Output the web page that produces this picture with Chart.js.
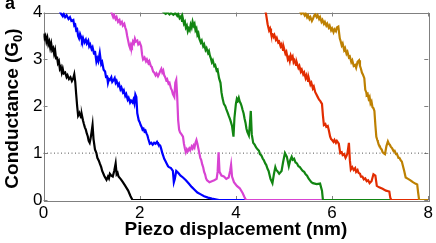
<!DOCTYPE html>
<html>
<head>
<meta charset="utf-8">
<script src="https://cdn.jsdelivr.net/npm/chart.js@4.4.1/dist/chart.umd.min.js"></script>
<style>
  html, body { margin: 0; padding: 0; background: #fff; }
  #wrap { width: 436px; height: 243px; }
</style>
</head>
<body>
<div id="wrap"><canvas id="traceChart" width="436" height="243"></canvas></div>
<script>
// conductance traces, [piezo displacement (nm), conductance (G0)]
const blackTrace = [[0,3.55],[0.02,3.45],[0.04,3.5],[0.06,3.38],[0.08,3.46],[0.1,3.32],[0.12,3.38],[0.14,3.25],[0.16,3.34],[0.18,3.2],[0.2,3.24],[0.22,3.12],[0.24,3.2],[0.26,3.02],[0.28,3.06],[0.3,2.92],[0.32,2.96],[0.34,2.8],[0.36,2.84],[0.38,2.72],[0.4,2.8],[0.42,2.7],[0.45,2.72],[0.48,2.62],[0.5,2.66],[0.53,2.58],[0.56,2.62],[0.59,2.54],[0.62,2.6],[0.64,2.68],[0.66,2.52],[0.68,2.25],[0.7,2.0],[0.72,1.8],[0.75,1.86],[0.78,1.76],[0.8,1.8],[0.82,1.7],[0.84,1.62],[0.86,1.55],[0.88,1.5],[0.9,1.42],[0.92,1.36],[0.94,1.26],[0.96,1.22],[0.98,1.32],[1.0,1.45],[1.02,1.6],[1.04,1.3],[1.07,1.08],[1.1,1.0],[1.12,0.9],[1.15,0.84],[1.17,0.78],[1.2,0.7],[1.22,0.62],[1.25,0.55],[1.27,0.5],[1.31,0.43],[1.34,0.5],[1.36,0.46],[1.38,0.56],[1.41,0.52],[1.44,0.5],[1.47,0.62],[1.5,0.78],[1.52,0.55],[1.54,0.58],[1.56,0.5],[1.61,0.44],[1.65,0.38],[1.7,0.3],[1.76,0.2],[1.81,0.08],[1.85,0],[8,0]];
const blueTrace = [[0.3,4.1],[0.36,3.98],[0.4,3.92],[0.42,3.97],[0.45,3.9],[0.48,3.94],[0.52,3.86],[0.55,3.9],[0.58,3.82],[0.62,3.84],[0.64,3.72],[0.66,3.74],[0.68,3.62],[0.7,3.64],[0.72,3.5],[0.74,3.45],[0.76,3.54],[0.78,3.48],[0.8,3.4],[0.82,3.46],[0.85,3.36],[0.88,3.42],[0.9,3.34],[0.93,3.4],[0.95,3.28],[0.97,3.32],[1.0,3.22],[1.02,3.26],[1.05,3.12],[1.07,3.18],[1.1,2.95],[1.12,3.02],[1.14,2.96],[1.17,3.14],[1.2,2.9],[1.22,2.94],[1.25,2.78],[1.28,2.74],[1.3,2.62],[1.32,2.66],[1.34,2.5],[1.36,2.58],[1.38,2.56],[1.41,2.62],[1.43,2.52],[1.46,2.56],[1.48,2.6],[1.5,2.5],[1.52,2.54],[1.55,2.44],[1.57,2.48],[1.6,2.36],[1.62,2.4],[1.65,2.3],[1.67,2.34],[1.7,2.22],[1.72,2.26],[1.75,2.14],[1.77,2.18],[1.8,2.08],[1.82,2.12],[1.85,2.08],[1.87,2.14],[1.89,2.06],[1.91,2.25],[1.93,2.2],[1.95,1.85],[1.98,1.7],[2.0,1.66],[2.02,1.6],[2.04,1.56],[2.06,1.5],[2.08,1.52],[2.1,1.46],[2.12,1.48],[2.14,1.42],[2.16,1.38],[2.18,1.3],[2.21,1.2],[2.24,1.22],[2.27,1.18],[2.3,1.22],[2.33,1.2],[2.36,1.24],[2.38,1.2],[2.41,1.18],[2.43,1.15],[2.45,1.08],[2.47,1.0],[2.49,0.94],[2.51,0.88],[2.54,0.82],[2.56,0.78],[2.59,0.72],[2.61,0.7],[2.65,0.68],[2.69,0.62],[2.71,0.38],[2.73,0.45],[2.76,0.62],[2.8,0.58],[2.85,0.52],[2.9,0.48],[2.96,0.42],[3.02,0.35],[3.08,0.28],[3.14,0.22],[3.2,0.16],[3.27,0.12],[3.34,0.08],[3.42,0.05],[3.5,0.03],[3.6,0.01],[3.65,0],[8,0]];
const pinkTrace = [[1.38,4.1],[1.42,3.98],[1.45,3.9],[1.47,3.94],[1.5,3.86],[1.52,3.9],[1.55,3.8],[1.58,3.84],[1.6,3.76],[1.63,3.8],[1.65,3.72],[1.68,3.76],[1.7,3.68],[1.72,3.62],[1.74,3.5],[1.76,3.4],[1.78,3.3],[1.8,3.24],[1.82,3.32],[1.84,3.28],[1.86,3.38],[1.88,3.34],[1.9,3.44],[1.92,3.38],[1.95,3.4],[1.97,3.32],[2.0,3.36],[2.03,3.28],[2.05,3.1],[2.07,3.0],[2.1,3.04],[2.13,2.96],[2.15,3.0],[2.18,2.92],[2.2,2.96],[2.23,2.86],[2.25,2.84],[2.28,2.74],[2.3,2.72],[2.33,2.66],[2.35,2.7],[2.38,2.64],[2.4,2.68],[2.43,2.76],[2.45,2.8],[2.47,2.72],[2.49,2.76],[2.51,2.66],[2.53,2.62],[2.55,2.56],[2.57,2.58],[2.6,2.48],[2.62,2.5],[2.65,2.38],[2.67,2.34],[2.69,2.26],[2.72,2.2],[2.74,2.5],[2.76,2.56],[2.78,2.2],[2.8,1.7],[2.82,1.5],[2.84,1.44],[2.87,1.4],[2.9,1.35],[2.92,1.2],[2.94,1.1],[2.96,1.02],[2.98,1.08],[3.0,1.04],[3.03,1.1],[3.05,1.06],[3.08,1.14],[3.1,1.1],[3.12,1.16],[3.14,1.12],[3.16,1.22],[3.18,1.28],[3.2,1.2],[3.22,1.1],[3.24,1.0],[3.26,0.9],[3.28,0.85],[3.3,0.76],[3.32,0.7],[3.34,0.6],[3.36,0.55],[3.38,0.46],[3.4,0.42],[3.45,0.38],[3.5,0.4],[3.55,0.42],[3.6,0.45],[3.62,0.6],[3.64,1.02],[3.66,0.6],[3.7,0.52],[3.75,0.5],[3.8,0.45],[3.85,0.48],[3.88,0.62],[3.9,0.75],[3.92,0.5],[3.96,0.38],[4.02,0.3],[4.08,0.25],[4.14,0.15],[4.18,0.06],[4.21,0],[8,0]];
const greenTrace = [[2.45,4.05],[2.5,4.0],[2.54,3.97],[2.58,4.0],[2.62,3.96],[2.65,3.99],[2.7,3.95],[2.74,3.99],[2.78,3.93],[2.8,3.97],[2.83,3.88],[2.86,3.92],[2.88,3.82],[2.9,3.86],[2.92,3.76],[2.94,3.8],[2.96,3.68],[2.98,3.72],[3.0,3.6],[3.02,3.66],[3.04,3.62],[3.06,3.74],[3.08,3.68],[3.1,3.8],[3.12,3.72],[3.14,3.76],[3.16,3.62],[3.18,3.66],[3.2,3.52],[3.22,3.56],[3.24,3.44],[3.27,3.36],[3.29,3.4],[3.32,3.28],[3.34,3.32],[3.37,3.2],[3.39,3.24],[3.42,3.14],[3.44,3.18],[3.46,3.08],[3.48,3.02],[3.5,2.94],[3.52,2.98],[3.55,2.86],[3.57,2.88],[3.6,2.76],[3.62,2.78],[3.65,2.6],[3.68,2.5],[3.7,2.3],[3.72,2.18],[3.75,2.05],[3.78,2.0],[3.8,1.94],[3.83,1.86],[3.85,1.8],[3.88,1.72],[3.9,1.65],[3.92,1.58],[3.93,1.5],[3.95,1.35],[3.97,1.75],[4.0,2.05],[4.02,2.16],[4.04,2.12],[4.06,2.18],[4.08,2.1],[4.1,2.06],[4.12,2.0],[4.14,1.92],[4.16,1.85],[4.18,1.74],[4.2,1.65],[4.22,1.52],[4.24,1.45],[4.27,1.38],[4.29,1.6],[4.31,1.9],[4.33,1.4],[4.36,1.22],[4.39,1.18],[4.42,1.12],[4.45,1.08],[4.48,1.05],[4.5,0.98],[4.53,0.95],[4.56,0.88],[4.58,0.85],[4.61,0.78],[4.63,0.75],[4.66,0.66],[4.68,0.62],[4.72,0.45],[4.76,0.36],[4.79,0.55],[4.82,0.7],[4.84,0.64],[4.86,0.62],[4.9,0.56],[4.95,0.62],[4.98,0.8],[5.02,1.0],[5.04,0.96],[5.06,0.92],[5.1,0.72],[5.13,0.85],[5.16,0.92],[5.18,0.86],[5.21,0.88],[5.24,0.8],[5.27,0.78],[5.3,0.72],[5.33,0.7],[5.36,0.66],[5.39,0.62],[5.42,0.6],[5.45,0.55],[5.48,0.52],[5.51,0.46],[5.54,0.42],[5.57,0.38],[5.6,0.36],[5.68,0.34],[5.75,0.35],[5.79,0.2],[5.81,0],[8,0]];
const redTrace = [[4.6,4.1],[4.63,3.95],[4.66,3.75],[4.69,3.62],[4.71,3.66],[4.73,3.56],[4.76,3.54],[4.78,3.48],[4.8,3.52],[4.83,3.42],[4.85,3.46],[4.88,3.36],[4.9,3.38],[4.93,3.28],[4.95,3.32],[4.98,3.2],[5.0,3.24],[5.03,3.12],[5.05,3.16],[5.08,3.0],[5.1,3.04],[5.12,2.96],[5.14,3.08],[5.16,3.02],[5.18,3.06],[5.2,2.94],[5.22,2.98],[5.25,2.88],[5.27,2.92],[5.3,2.82],[5.32,2.86],[5.35,2.74],[5.37,2.78],[5.4,2.68],[5.42,2.72],[5.45,2.6],[5.47,2.66],[5.5,2.54],[5.52,2.58],[5.55,2.46],[5.57,2.5],[5.6,2.38],[5.62,2.42],[5.65,2.3],[5.67,2.26],[5.7,2.2],[5.73,2.14],[5.75,2.12],[5.79,2.05],[5.81,1.8],[5.83,1.6],[5.86,1.62],[5.88,1.56],[5.91,1.58],[5.93,1.5],[5.96,1.35],[5.98,1.3],[6.0,1.28],[6.03,1.24],[6.05,1.28],[6.08,1.22],[6.1,1.26],[6.14,1.2],[6.17,1.0],[6.2,1.02],[6.22,0.96],[6.25,0.98],[6.28,0.9],[6.3,0.94],[6.32,1.0],[6.35,1.22],[6.37,0.85],[6.39,0.65],[6.42,0.7],[6.45,0.64],[6.48,0.68],[6.5,0.6],[6.53,0.64],[6.55,0.58],[6.58,0.56],[6.6,0.5],[6.63,0.5],[6.66,0.44],[6.69,0.46],[6.72,0.4],[6.75,0.42],[6.78,0.36],[6.82,0.4],[6.86,0.55],[6.9,0.52],[6.93,0.3],[6.98,0.27],[7.05,0.24],[7.12,0.2],[7.19,0.18],[7.21,0.05],[7.23,0],[8,0]];
const goldTrace = [[5.32,4.05],[5.36,3.97],[5.4,4.0],[5.43,3.94],[5.45,3.98],[5.48,3.9],[5.5,3.94],[5.53,3.86],[5.55,3.9],[5.58,3.82],[5.6,3.86],[5.63,3.94],[5.65,3.96],[5.68,3.9],[5.7,3.94],[5.73,3.86],[5.75,3.9],[5.78,3.8],[5.8,3.84],[5.83,3.76],[5.85,3.8],[5.88,3.72],[5.9,3.76],[5.93,3.68],[5.95,3.72],[5.98,3.62],[6.0,3.66],[6.03,3.58],[6.05,3.64],[6.08,3.6],[6.1,3.68],[6.13,3.7],[6.16,3.45],[6.18,3.38],[6.2,3.3],[6.22,3.34],[6.25,3.2],[6.27,3.24],[6.3,3.12],[6.32,3.16],[6.35,3.04],[6.37,3.06],[6.4,2.94],[6.42,2.98],[6.45,2.86],[6.48,2.88],[6.5,2.82],[6.53,2.95],[6.56,2.98],[6.58,2.86],[6.6,2.8],[6.62,2.72],[6.64,2.68],[6.67,2.6],[6.69,2.35],[6.71,2.3],[6.72,2.24],[6.74,2.26],[6.76,2.16],[6.78,2.2],[6.8,2.06],[6.82,2.1],[6.84,1.98],[6.86,1.96],[6.88,1.9],[6.9,1.6],[6.92,1.35],[6.94,1.28],[6.95,1.25],[6.97,1.18],[6.99,1.15],[7.01,1.1],[7.03,1.08],[7.05,1.02],[7.07,1.0],[7.1,0.98],[7.13,1.15],[7.16,1.25],[7.18,1.2],[7.2,1.18],[7.22,1.14],[7.25,1.1],[7.28,1.04],[7.3,1.05],[7.33,0.98],[7.35,0.98],[7.38,0.9],[7.4,0.9],[7.43,0.84],[7.45,0.82],[7.48,0.7],[7.5,0.62],[7.53,0.48],[7.58,0.45],[7.63,0.42],[7.68,0.38],[7.73,0.35],[7.77,0.33],[7.79,0.15],[7.81,0],[8,0]];
const referenceLine = [[0,1],[8,1]];

const xTicks = [0, 2, 4, 6, 8];
const yTicks = [0, 1, 2, 3, 4];

const traces = [
  { data: blackTrace, color: '#000000' },
  { data: blueTrace, color: '#0000ff' },
  { data: pinkTrace, color: '#d843d2' },
  { data: greenTrace, color: '#128512' },
  { data: redTrace, color: '#e22c00' },
  { data: goldTrace, color: '#bd8002' },
];

function toPoints(arr) {
  return arr.map(p => ({ x: p[0], y: p[1] }));
}

const datasets = traces.map((t, i) => ({
  data: toPoints(t.data),
  borderColor: t.color,
  borderWidth: 2.2,
  showLine: true,
  pointRadius: 0,
  tension: 0,
  order: traces.length - i,
}));

datasets.push({
  data: toPoints(referenceLine),
  borderColor: '#555555',
  borderWidth: 1,
  borderDash: [1, 2.5],
  showLine: true,
  pointRadius: 0,
  order: 10,
});

const FRAME = '#808080';

// box + inward tick marks, matlab style
const framePlugin = {
  id: 'frame',
  beforeDatasetsDraw(chart) {
    const { ctx, chartArea: a, scales } = chart;
    ctx.save();
    ctx.strokeStyle = FRAME;
    ctx.lineWidth = 1;
    ctx.strokeRect(Math.round(a.left) + 0.5, Math.round(a.top) + 0.5,
      Math.round(a.right - a.left), Math.round(a.bottom - a.top));
    ctx.beginPath();
    xTicks.forEach(v => {
      const px = Math.round(scales.x.getPixelForValue(v)) + 0.5;
      ctx.moveTo(px, a.top); ctx.lineTo(px, a.top + 4);
      ctx.moveTo(px, a.bottom); ctx.lineTo(px, a.bottom - 4);
    });
    yTicks.forEach(v => {
      const py = Math.round(scales.y.getPixelForValue(v)) + 0.5;
      ctx.moveTo(a.left, py); ctx.lineTo(a.left + 4, py);
      ctx.moveTo(a.right, py); ctx.lineTo(a.right - 4, py);
    });
    ctx.stroke();
    ctx.restore();
  },
  afterDraw(chart) {
    const ctx = chart.ctx;
    const font = 'bold 19px "Liberation Sans", Arial, sans-serif';
    const subFont = 'bold 13px "Liberation Sans", Arial, sans-serif';
    ctx.save();
    ctx.fillStyle = '#000';
    // panel letter
    ctx.font = 'bold 18px "Liberation Sans", Arial, sans-serif';
    ctx.textBaseline = 'alphabetic';
    ctx.fillText('a', 5, 8.5);
    // y axis title with subscript
    ctx.translate(17.5, 108.5);
    ctx.rotate(-Math.PI / 2);
    ctx.font = font;
    const w1 = ctx.measureText('Conductance (G').width;
    const w3 = ctx.measureText(')').width;
    ctx.font = subFont;
    const w2 = ctx.measureText('0').width;
    let x = -(w1 + w2 + w3) / 2;
    ctx.font = font;
    ctx.fillText('Conductance (G', x, 0);
    x += w1;
    ctx.font = subFont;
    ctx.fillText('0', x, 4);
    x += w2;
    ctx.font = font;
    ctx.fillText(')', x, 0);
    ctx.restore();
  }
};

const tickFont = { family: '"Liberation Sans", Arial, sans-serif', size: 17 };

new Chart(document.getElementById('traceChart').getContext('2d'), {
  type: 'scatter',
  data: { datasets: datasets },
  options: {
    responsive: false,
    animation: false,
    layout: { padding: { top: 12.5, right: 6, left: 0, bottom: 0 } },
    plugins: { legend: { display: false }, tooltip: { enabled: false } },
    scales: {
      x: {
        type: 'linear', min: 0, max: 8,
        grid: { display: false, drawTicks: false },
        border: { display: false },
        ticks: { stepSize: 2, font: tickFont, color: '#000', padding: 3, maxRotation: 0 },
        title: {
          display: true, text: 'Piezo displacement (nm)', color: '#000',
          font: { family: '"Liberation Sans", Arial, sans-serif', size: 19, weight: 'bold' },
          padding: { top: 0, bottom: 2 },
        },
        afterFit: s => { s.height = 43; },
      },
      y: {
        type: 'linear', min: 0, max: 4,
        grid: { display: false, drawTicks: false },
        border: { display: false },
        ticks: { stepSize: 1, font: tickFont, color: '#000', padding: 1 },
        afterFit: s => { s.width = 43.5; },
      },
    },
  },
  plugins: [framePlugin],
});
</script>
</body>
</html>
